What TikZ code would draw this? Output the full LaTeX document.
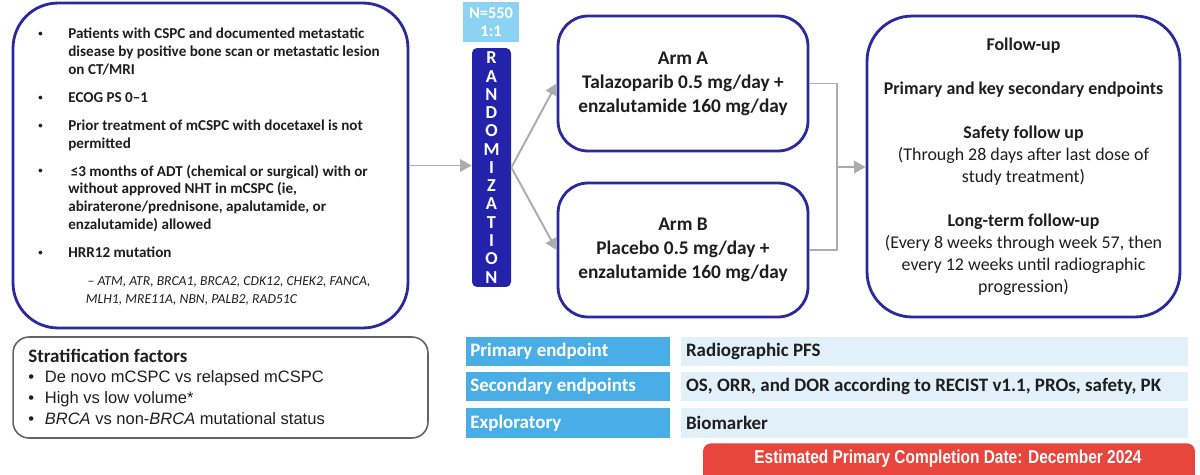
\documentclass[tikz,border=0pt]{standalone}
\usepackage{fontspec}
\setmainfont{Carlito}
\newfontfamily\arialfont{Liberation Sans}
\newfontfamily\narrowfont[FakeStretch=0.83]{Liberation Sans}
\usepackage{xcolor}
\usetikzlibrary{positioning, arrows.meta}

\definecolor{boxblue}{RGB}{44,40,158}
\definecolor{randblue}{RGB}{34,34,170}
\definecolor{nblue}{RGB}{140,210,242}
\definecolor{cellblue}{RGB}{74,174,230}
\definecolor{celllight}{RGB}{226,240,250}
\definecolor{datered}{RGB}{232,69,60}
\definecolor{arrowgray}{RGB}{172,172,172}
\definecolor{stratgray}{RGB}{100,100,100}
\definecolor{ink}{RGB}{30,30,30}

\newcommand\critdot{\raisebox{1.2pt}{\fontsize{5}{5}\selectfont\textbullet}}

\begin{document}
\begin{tikzpicture}[x=0.02cm, y=-0.02cm,
  bluebox/.style={draw=boxblue, line width=1.6pt, fill=white, rounded corners=0.6cm, text=ink},
  arrowline/.style={draw=arrowgray, line width=1.1pt},
  grayarrow/.style={arrowline, -{Triangle[length=6.5pt,width=7pt]}},
  headcell/.style={anchor=west, fill=cellblue, text=white, font=\fontsize{10.8}{13}\selectfont\bfseries,
    minimum height=0.59cm, inner ysep=1pt, inner xsep=0.08cm, text width=3.92cm, align=flush left},
  valuecell/.style={anchor=west, fill=celllight, text=ink, font=\fontsize{10.8}{13}\selectfont\bfseries,
    minimum height=0.59cm, inner ysep=1pt, inner xsep=0.1cm, text width=9.94cm, align=flush left}]

\useasboundingbox (0,0) rectangle (1200,474);

\node[bluebox, rounded corners=0.9cm, minimum width=7.9cm, minimum height=6.5cm] (crit) at (210.5,165.5) {};
\node[anchor=base west, inner sep=0, text=ink, font=\fontsize{8.6}{10.2}\selectfont\bfseries] (critlist) at (38,38.5) {%
\begin{tabular}[t]{@{}p{0.6cm}@{}l@{}}
\critdot & Patients with CSPC and documented metastatic\\
 & disease by positive bone scan or metastatic lesion\\
 & on CT/MRI\\[5.7pt]
\critdot & ECOG PS 0--1\\[5.7pt]
\critdot & Prior treatment of mCSPC with docetaxel is not\\
 & permitted\\[5.7pt]
\critdot & \,≤3 months of ADT (chemical or surgical) with or\\
 & without approved NHT in mCSPC (ie,\\
 & abiraterone/prednisone, apalutamide, or\\
 & enzalutamide) allowed\\[5.7pt]
\critdot & HRR12 mutation\\[5.7pt]
 & \hspace{11pt}{\fontsize{7.8}{10.2}\selectfont\mdseries\itshape -- ATM, ATR, BRCA1, BRCA2, CDK12, CHEK2, FANCA,}\\
 & \hspace{10pt}{\fontsize{7.8}{10.2}\selectfont\mdseries\itshape MLH1, MRE11A, NBN, PALB2, RAD51C}
\end{tabular}};

\node[fill=nblue, minimum width=1.12cm, minimum height=0.8cm, inner sep=1pt, text=white, align=center,
  font=\fontsize{9.3}{10.2}\selectfont\bfseries] (nbox) at (491,22) {N=550\\1:1};
\node[fill=randblue, rounded corners=0.1cm, minimum width=0.78cm, minimum height=4.78cm, inner sep=0.5pt,
  text=white, align=center, font=\fontsize{10.4}{10.4}\selectfont\bfseries] (rand) at (491.5,167.5)
  {R\\A\\N\\D\\O\\M\\I\\Z\\A\\T\\I\\O\\N};

\node[bluebox, minimum width=5cm, minimum height=2.7cm, align=center,
  font=\fontsize{11}{13.7}\selectfont\bfseries] (armA) at (683,83.5)
  {Arm A\\Talazoparib 0.5 mg/day +\\enzalutamide 160 mg/day};
\node[bluebox, minimum width=5cm, minimum height=2.68cm, align=center,
  font=\fontsize{11}{13.7}\selectfont\bfseries] (armB) at (683,250)
  {Arm B\\Placebo 0.5 mg/day +\\enzalutamide 160 mg/day};

\node[bluebox, rounded corners=0.9cm, minimum width=6.26cm, minimum height=6.02cm, align=center,
  font=\fontsize{10.2}{12.5}\selectfont] (follow) at (1023.5,166.5)
  {\textbf{Follow-up}\\[12.5pt]
   \textbf{Primary and key secondary endpoints}\\[12.5pt]
   \textbf{Safety follow up}\\
   (Through 28 days after last dose of\\
   study treatment)\\[12.5pt]
   \textbf{Long-term follow-up}\\
   (Every 8 weeks through week 57, then\\
   every 12 weeks until radiographic\\
   progression)};

\draw[grayarrow] (crit.east) -- (crit.east -| rand.west);
\draw[grayarrow] (rand.east) -- (armA.west);
\draw[grayarrow] (rand.east) -- (armB.west);
\coordinate (join) at (837,167);
\draw[arrowline] (armA.east) -| (join) |- (armB.east);
\draw[grayarrow] (join) -- (join -| follow.west);

\node[draw=stratgray, line width=0.9pt, rounded corners=0.32cm, minimum width=8.3cm, minimum height=2.02cm] (strat) at (220.5,387.5) {};
\node[anchor=base west, inner sep=0, text=ink, font=\arialfont\fontsize{9.4}{11.8}\selectfont] (stratlist) at (28,362) {%
\begin{tabular}[t]{@{}p{0.33cm}@{}l@{}}
\multicolumn{2}{@{}l@{}}{\rmfamily\bfseries\fontsize{10.8}{11.8}\selectfont Stratification factors}\\
\textbullet & De novo mCSPC vs relapsed mCSPC\\
\textbullet & High vs low volume*\\
\textbullet & \textit{BRCA} vs non-\textit{BRCA} mutational status
\end{tabular}};

\node[headcell] (pe) at (466,351.5) {Primary endpoint};
\node[valuecell, right=0.2cm of pe] (pev) {Radiographic PFS};
\node[headcell, below=0.1cm of pe] (se) {Secondary endpoints};
\node[valuecell, right=0.2cm of se] (sev) {OS, ORR, and DOR according to RECIST v1.1, PROs, safety, PK};
\node[headcell, below=0.12cm of se] (ex) {Exploratory};
\node[valuecell, right=0.2cm of ex] (exv) {Biomarker};

\node[fill=datered, rounded corners=0.16cm, minimum width=9.84cm, minimum height=0.9cm, anchor=north] (datebar) at (949,443) {};
\node[text=white, font=\narrowfont\bfseries\fontsize{10.6}{13}\selectfont] (datetext) at (948,458.5) {Estimated Primary Completion Date: December 2024};

\end{tikzpicture}
\end{document}
